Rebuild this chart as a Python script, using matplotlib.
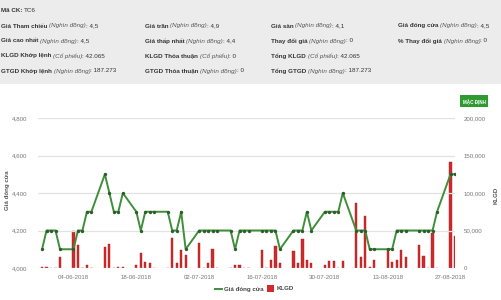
import matplotlib
matplotlib.use("Agg")
import matplotlib.pyplot as plt
import matplotlib.dates as mdates
from matplotlib.text import Annotation
import pandas as pd

plt.rcParams['font.family'] = ['Liberation Sans', 'DejaVu Sans']

# trading days shown on the chart
dates = pd.bdate_range("2018-05-28", "2018-08-28")

closePrice = [
    4100, 4200, 4200, 4200, 4100,
    4100, 4200, 4200, 4300, 4300,
    4500, 4400, 4300, 4300, 4400,
    4300, 4200, 4300, 4300, 4300,
    4300, 4200, 4200, 4300, 4100,
    4200, 4200, 4200, 4200, 4200,
    4200, 4100, 4200, 4200, 4200,
    4200, 4200, 4200, 4200, 4100,
    4200, 4200, 4200, 4300, 4200,
    4300, 4300, 4300, 4300, 4400,
    4200, 4200, 4200, 4100, 4100,
    4100, 4100, 4200, 4200, 4200,
    4200, 4200, 4200, 4200, 4300,
    4500, 4500,
]

volume = [
    1500, 1500, 0, 0, 14300,
    49700, 30700, 0, 4000, 0,
    27600, 32000, 0, 1200, 1200,
    3600, 19600, 8400, 6200, 0,
    0, 39600, 6200, 24000, 17300,
    33700, 500, 6200, 24900, 500,
    0, 3600, 3600, 0, 0,
    24000, 0, 10700, 29300, 7100,
    23100, 6200, 38700, 10700, 7100,
    4000, 9800, 9800, 0, 9800,
    86200, 15100, 69300, 1800, 10700,
    24900, 8400, 10700, 24000, 15100,
    30700, 16000, 0, 46200, 0,
    141700, 42065,
]

tickDates = ["2018-06-04", "2018-06-18", "2018-07-02", "2018-07-16",
             "2018-07-30", "2018-08-13", "2018-08-27"]

priceTicks = [4000, 4200, 4400, 4600, 4800]
volumeTicks = [0, 50000, 100000, 150000, 200000]

# header info: (label, unit, value)
infoRows = [
    [("Giá Tham chiếu", "(Nghìn đồng)", "4,5"), ("Giá trần", "(Nghìn đồng)", "4,9"),
     ("Giá sàn", "(Nghìn đồng)", "4,1"), ("Giá đóng cửa", "(Nghìn đồng)", "4,5")],
    [("Giá cao nhất", "(Nghìn đồng)", "4,5"), ("Giá thấp nhất", "(Nghìn đồng)", "4,4"),
     ("Thay đổi giá", "(Nghìn đồng)", "0"), ("% Thay đổi giá", "(Nghìn đồng)", "0")],
    [("KLGD Khớp lệnh", "(Cổ phiếu)", "42.065"), ("KLGD Thỏa thuận", "(Cổ phiếu)", "0"),
     ("Tổng KLGD", "(Cổ phiếu)", "42.065")],
    [("GTGD Khớp lệnh", "(Nghìn đồng)", "187.273"), ("GTGD Thỏa thuận", "(Nghìn đồng)", "0"),
     ("Tổng GTGD", "(Nghìn đồng)", "187.273")],
]

W, H = 501, 300
fig = plt.figure(figsize=(W / 100, H / 100), dpi=100)
fig.patch.set_facecolor("white")

# gray info panel
fig.patches.append(plt.Rectangle((0, 1 - 84 / H), 1, 84 / H, transform=fig.transFigure,
                                 facecolor="#ececec", edgecolor="none", zorder=0))

fs = 4.5
txtColor = "#333333"
t0 = fig.text(1 / W, 1 - 10 / H, "Mã CK: ", fontsize=fs, fontweight="bold", color=txtColor,
              va="center")
fig.add_artist(Annotation("TC6", xy=(1, 0.5), xycoords=t0, va="center", ha="left",
                          fontsize=fs, color=txtColor))
colX = [1, 145, 271, 398]
rowY = [26, 41, 56, 71]
for r, row in enumerate(infoRows):
    for c, (label, unit, value) in enumerate(row):
        t1 = fig.text(colX[c] / W, 1 - rowY[r] / H, label + " ", fontsize=fs,
                      fontweight="bold", color=txtColor, va="center")
        u = fig.add_artist(Annotation(unit, xy=(1, 0.5), xycoords=t1, va="center",
                                      ha="left", fontsize=fs, fontstyle="italic",
                                      color="#555555"))
        fig.add_artist(Annotation(": " + value, xy=(1, 0.5), xycoords=u, va="center",
                                  ha="left", fontsize=fs, color=txtColor))

# chart
ax = fig.add_axes([38 / W, 1 - 268 / H, (455 - 38) / W, 150 / H])
x = mdates.date2num(dates)
x0 = mdates.date2num(pd.Timestamp("2018-06-04"))
ax2 = ax.twinx()
ax2.bar(x, volume, width=0.5, color="#d02a2a", edgecolor="#a81e1e", linewidth=0.3, zorder=2)
ax.plot(x, closePrice, color="#3f8f3a", linewidth=1.4, marker="o", markersize=1.4,
        markerfacecolor="#2c5e2a", markeredgecolor="#2c5e2a", zorder=3)
ax.set_zorder(ax2.get_zorder() + 1)
ax.patch.set_visible(False)

ax.set_xlim(x0 - 7.9, x0 + 85.0)
ax.set_ylim(4000, 4800)
ax2.set_ylim(0, 200000)
ax.set_yticks(priceTicks)
ax.set_yticklabels([f"{v:,}" for v in priceTicks])
ax2.set_yticks(volumeTicks)
ax2.set_yticklabels([f"{v:,}" for v in volumeTicks])
ax.set_xticks(mdates.date2num(pd.to_datetime(tickDates)))
ax.xaxis.set_major_formatter(mdates.DateFormatter("%d-%m-%Y"))

ax.grid(axis="y", color="#e2e2e2", linewidth=0.9)
ax.set_axisbelow(True)
for a in (ax, ax2):
    for s in a.spines.values():
        s.set_visible(False)
    a.tick_params(length=0, labelsize=4.4, colors="#777777")
ax.tick_params(axis="y", pad=8)
ax.tick_params(axis="x", pad=5)
ax2.tick_params(axis="y", pad=6)

fig.text(8 / W, 1 - 190 / H, "Giá đóng cửa", rotation=90, fontsize=4.4, fontweight="bold",
         color="#555555", ha="center", va="center")
fig.text(496 / W, 1 - 195 / H, "KLGD", rotation=90, fontsize=4.4, fontweight="bold",
         color="#555555", ha="center", va="center")

# "MẶC ĐỊNH" button
fig.patches.append(plt.Rectangle((460 / W, 1 - 107 / H), 28 / W, 12 / H,
                                 transform=fig.transFigure, facecolor="#2f9a2f",
                                 edgecolor="none"))
fig.text(474 / W, 1 - 101 / H, "MẶC ĐỊNH", fontsize=3.3, color="white", fontweight="bold",
         ha="center", va="center")

# legend
fig.lines.append(plt.Line2D([215 / W, 222 / W], [1 - 289 / H] * 2, transform=fig.transFigure,
                            color="#3f8f3a", linewidth=1.4))
fig.text(224 / W, 1 - 289 / H, "Giá đóng cửa", fontsize=4.4, fontweight="bold",
         color="#444444", va="center")
fig.patches.append(plt.Rectangle((267 / W, 1 - 292 / H), 7 / W, 7 / H,
                                 transform=fig.transFigure, facecolor="#d02a2a",
                                 edgecolor="none"))
fig.text(277 / W, 1 - 289 / H, "KLGD", fontsize=4.4, fontweight="bold",
         color="#444444", va="center")

fig.savefig("out.png", dpi=100)
